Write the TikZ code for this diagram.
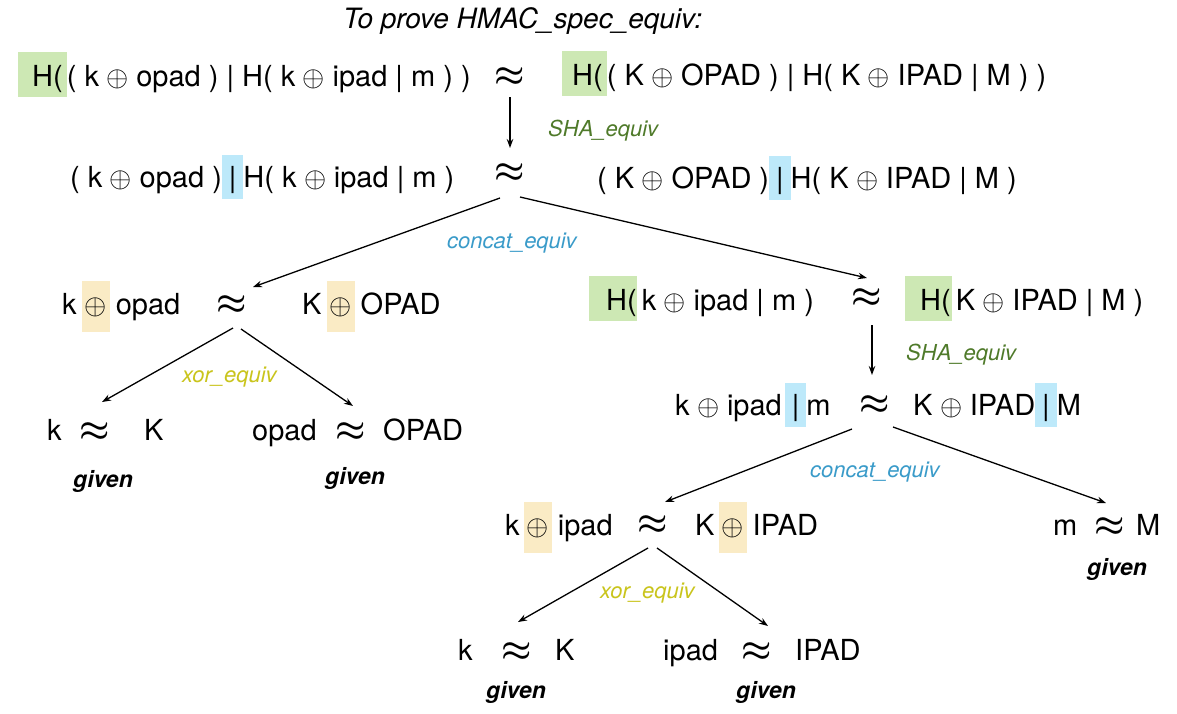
\documentclass[tikz,border=0pt]{standalone}
\usepackage{fontspec}
\usepackage{graphicx}
\setmainfont{TeX Gyre Heros}
\usetikzlibrary{arrows.meta,calc}
\definecolor{shabg}{HTML}{CDE8B4}
\definecolor{catbg}{HTML}{BDE9FA}
\definecolor{xorbg}{HTML}{FAEBC5}
\definecolor{shatxt}{HTML}{4F7A2A}
\definecolor{cattxt}{HTML}{3A9BC9}
\definecolor{xortxt}{HTML}{C9C41C}
\newcommand\hlbox[6]{{\setlength{\fboxsep}{0pt}\colorbox{#1}{\hspace*{#4}\rule[-#3]{0pt}{\dimexpr #2+#3\relax}#6\hspace*{#5}}}}
\newcommand\opg{\scalebox{2.85}{\fontsize{10}{12}\selectfont$\oplus$}}
\newcommand\op{\kern-0.5pt\opg\kern-0.5pt}
\newcommand\apx{\scalebox{3.4}{\fontsize{10}{12}\selectfont\boldmath$\approx$}}
\newcommand\ob{\hlbox{xorbg}{33pt}{18pt}{3pt}{3pt}{\opg}}
\newcommand\bl[1]{\hlbox{catbg}{32pt}{12pt}{7pt}{7pt}{#1}}
\newcommand\gH[3]{\hlbox{shabg}{34pt}{11pt}{#1}{#2}{#3}}
\begin{document}
\begin{tikzpicture}[x=1pt,y=-1pt,
  expr/.style={anchor=base west,inner sep=0pt,font=\fontsize{29}{34}\selectfont},
  apxnode/.style={inner sep=0pt,minimum width=30pt,minimum height=40pt},
  rulelbl/.style={anchor=base west,inner sep=0pt,font=\fontsize{22}{26}\selectfont\itshape},
  given/.style={anchor=base west,inner sep=0pt,font=\fontsize{23}{27}\selectfont\bfseries\itshape},
  arr/.style={-{Stealth[length=9pt,width=6.5pt]},line width=1.3pt}]
\useasboundingbox (0,0) rectangle (1177,713);

\node[anchor=base west,inner sep=0pt,font=\fontsize{28}{32}\selectfont\itshape] (title) at (343,28) {To prove HMAC\_spec\_equiv:};

% row 1
\node[expr] (L1) at (18,86) {\gH{14pt}{4pt}{H(}( k \op{} opad ) | H( k \op{} ipad | m ) )};
\node[apxnode] (A1) at (510,77) {\apx};
\node[expr] (R1) at (562,85) {\gH{10pt}{4pt}{H(}( K \op{} OPAD ) | H( K \op{} IPAD | M ) )};
\node[rulelbl,text=shatxt] (s1) at (548,136) {SHA\_equiv};

% row 2
\node[expr] (L2) at (70,187) {( k \op{} opad )\bl{|}H( k \op{} ipad | m )};
\node[apxnode] (A2) at (510,173) {\apx};
\node[expr] (R2) at (597,188) {( K \op{} OPAD )\bl{|}H( K \op{} IPAD | M )};
\node[rulelbl,text=cattxt] (c1) at (447,248) {concat\_equiv};

% row 3 left
\node[expr] (L3) at (62,314) {k\hspace{5pt}\ob\hspace{6pt}opad};
\node[apxnode] (A3) at (232,305) {\apx};
\node[expr] (R3) at (302,314) {K\hspace{5pt}\ob\hspace{6pt}OPAD};
\node[rulelbl,text=xortxt] (x1) at (182,382) {xor\_equiv};

% row 4 left
\node[expr] (k1) at (47,440) {k};
\node[apxnode] (A5) at (95,432) {\apx};
\node[expr] (K1) at (144,440) {K};
\node[expr] (o1) at (252,440) {opad};
\node[apxnode] (A6) at (351,432) {\apx};
\node[expr] (O1) at (383,440) {OPAD};
\node[given] (g1) at (73,487) {given};
\node[given] (g2) at (325,484) {given};

% row 3 right
\node[expr] (L4) at (589,310) {\gH{17pt}{0pt}{H(}\hspace{5pt}k \op{} ipad | m )};
\node[apxnode] (A4) at (867,298) {\apx};
\node[expr] (R4) at (905,310) {\gH{15pt}{1pt}{H(}\hspace{4pt}K \op{} IPAD | M )};
\node[rulelbl,text=shatxt] (s2) at (906,360) {SHA\_equiv};

% row 4 right
\node[expr] (L5) at (675,415) {k \op{} ipad\hspace{3pt}\bl{|}m};
\node[apxnode] (A7) at (875,405) {\apx};
\node[expr] (R5) at (913,415) {K \op{} IPAD\bl{|}M};
\node[rulelbl,text=cattxt] (c2) at (810,477) {concat\_equiv};

% row 5
\node[expr] (L6) at (505,535) {k\hspace{4pt}\ob\hspace{6pt}ipad};
\node[apxnode] (A8) at (653,525) {\apx};
\node[expr] (R6) at (695,535) {K\hspace{4pt}\ob\hspace{6pt}IPAD};
\node[expr] (m1) at (1053,535) {m};
\node[apxnode] (A9) at (1110,527) {\apx};
\node[expr] (M1) at (1136,535) {M};
\node[given] (g3) at (1087,575) {given};
\node[rulelbl,text=xortxt] (x2) at (600,598) {xor\_equiv};

% row 6
\node[expr] (k2) at (458,660) {k};
\node[apxnode] (A10) at (517,652) {\apx};
\node[expr] (K2) at (555,660) {K};
\node[expr] (i2) at (663,660) {ipad};
\node[apxnode] (A11) at (757,652) {\apx};
\node[expr] (I2) at (795,660) {IPAD};
\node[given] (g4) at (486,698) {given};
\node[given] (g5) at (736,698) {given};

% connectors
\draw[arr] ($(A1)+(0,20)$) -- ($(A2)+(0,-25)$);
\draw[arr] ($(A2)+(-10,25)$) -- ($(A3)+(21,-18)$);
\draw[arr] ($(A2)+(10,24)$) -- ($(A4)+(0,-20)$);
\draw[arr] ($(A3)+(1,23)$) -- ($(A5)+(7,-30)$);
\draw[arr] ($(A3)+(9,24)$) -- ($(A6)+(2,-26)$);
\draw[arr] ($(A4)+(5,27)$) -- ($(A7)+(-3,-30)$);
\draw[arr] ($(A7)+(-23,24)$) -- ($(A8)+(12,-23)$);
\draw[arr] ($(A7)+(18,22)$) -- ($(A9)+(-4,-24)$);
\draw[arr] ($(A8)+(-5,23)$) -- ($(A10)+(1,-30)$);
\draw[arr] ($(A8)+(4,23)$) -- ($(A11)+(11,-26)$);
\end{tikzpicture}
\end{document}
